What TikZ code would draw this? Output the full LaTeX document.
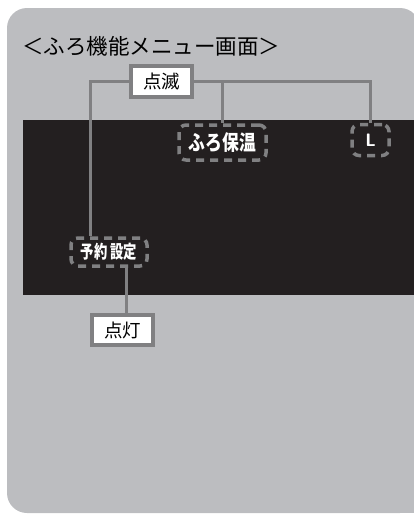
\documentclass[tikz,border=0pt]{standalone}
\usepackage{fontspec}
\usepackage{graphicx}
\usepackage{tikz}
\usetikzlibrary{positioning,calc}
\newfontfamily\jpfont{Noto Sans CJK JP}
\definecolor{panelgrey}{RGB}{188,189,192}
\definecolor{screenblack}{RGB}{35,31,32}
\definecolor{linegrey}{RGB}{128,128,130}
\newcommand{\narrowtext}[2]{\scalebox{#1}[1]{#2}}
\tikzset{
  tagbox/.style={rectangle,draw=linegrey,line width=4,fill=white,inner sep=0pt,minimum width=61,minimum height=31,font=\jpfont\fontsize{18.5}{18.5}\selectfont},
  dashmark/.style={rectangle,rounded corners=7,draw=linegrey,line width=3.5,dash pattern=on 8 off 6,inner sep=0pt,text=white,font=\jpfont\bfseries\fontsize{21}{21}\selectfont},
  link/.style={draw=linegrey,line width=3}
}
\begin{document}
\begin{tikzpicture}[x=1pt,y=-1pt]
  \useasboundingbox (0,0) rectangle (414,515);
  % panel and screen
  \fill[panelgrey,rounded corners=20] (7,8) rectangle (420,513);
  \fill[panelgrey] (300,400) rectangle (414,513);
  \fill[screenblack] (23,120) rectangle (414,295);
  \node[anchor=west,inner sep=0pt,font=\jpfont\fontsize{21.5}{21.5}\selectfont] (title) at (22,46.5) {＜ふろ機能メニュー画面＞};
  % marks on the screen
  \node[dashmark,minimum width=87,minimum height=35] (furo) at (222.5,142.5) {\narrowtext{0.8}{ふろ保温}};
  \node[dashmark,minimum width=37,minimum height=31,font=\sffamily\bfseries\fontsize{18}{18}\selectfont] (lmark) at (370.5,140) {L};
  \node[dashmark,minimum width=76,minimum height=28,font=\jpfont\bfseries\fontsize{18}{18}\selectfont] (yoyaku) at (109,252) {\narrowtext{0.74}{予約\hspace{4pt}設定}};
  % labels
  \node[tagbox] (blink) at (161.5,81.5) {点滅};
  \node[tagbox,minimum height=30] (lit) at (122.5,330) {点灯};
  \coordinate (branch) at (furo.north |- blink.east);
  \draw[link] (blink.west) -| ([xshift=21]yoyaku.north west);
  \draw[link] (blink.east) -| (lmark.north);
  \draw[link] (branch) -- (furo.north);
  \draw[link] ([xshift=-22]yoyaku.south east) -- ([xshift=-22]yoyaku.south east |- lit.north);
\end{tikzpicture}
\end{document}
